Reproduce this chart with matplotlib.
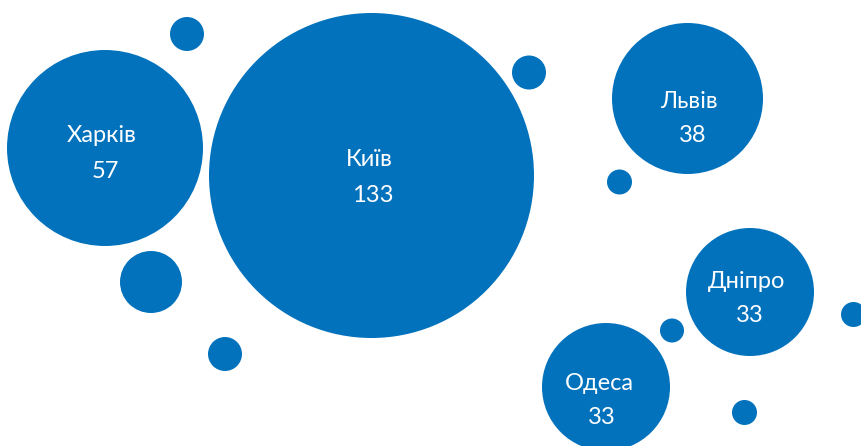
import matplotlib
matplotlib.use("Agg")
import matplotlib.pyplot as plt
from matplotlib.patches import Circle

# ---- data ----
cities = ["Харків", "Київ", "Львів", "Дніпро", "Одеса"]
values = [57, 133, 38, 33, 33]

# ---- layout (pixel coordinates, y downward) ----
bubble_x = [105, 371.5, 687.5, 750, 606]
bubble_y = [148, 175.5, 98.5, 292, 387]
bubble_r = [98, 162.5, 75.5, 64, 64]
name_xy = [(102, 135), (369, 160), (689, 102), (747, 282), (599, 384)]
value_xy = [(105, 171), (373, 195), (693, 135), (750, 315), (602, 418)]

deco_x = [187, 529, 619.5, 151, 225, 672, 853.5, 744.5]
deco_y = [34, 72.5, 182, 282, 354, 330.5, 314.5, 412.5]
deco_r = [17, 17, 12.5, 31, 17, 12, 12.5, 12.5]

BLUE = "#0372BC"
W, H = 861, 446

fig = plt.figure(figsize=(W / 100, H / 100), dpi=100)
ax = fig.add_axes([0, 0, 1, 1])
ax.set_xlim(0, W)
ax.set_ylim(H, 0)
ax.set_aspect("equal")
ax.axis("off")

for x, y, r in zip(deco_x, deco_y, deco_r):
    ax.add_patch(Circle((x, y), r, color=BLUE, lw=0))

for x, y, r in zip(bubble_x, bubble_y, bubble_r):
    ax.add_patch(Circle((x, y), r, color=BLUE, lw=0))

font = dict(family=["Lato", "Open Sans", "DejaVu Sans"], color="white",
            ha="center", va="center", fontsize=17)
for name, v, (nx, ny), (vx, vy) in zip(cities, values, name_xy, value_xy):
    ax.text(nx, ny, name, **font)
    ax.text(vx, vy, str(v), **font)

fig.savefig("out.png", dpi=100)
